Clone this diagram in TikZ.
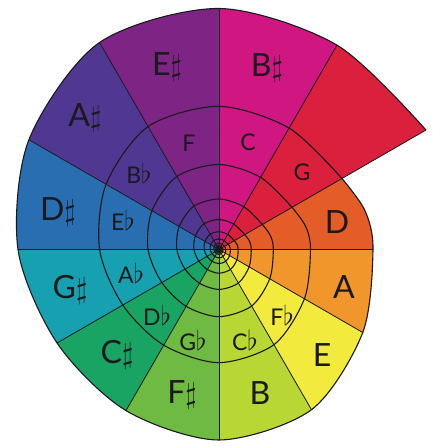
\documentclass[tikz,border=0pt]{standalone}
\usepackage{graphicx}
\usepackage{fontspec}
\setmainfont{Lato}

\definecolor{cD}{RGB}{228,92,40}
\definecolor{cG}{RGB}{218,32,60}
\definecolor{cC}{RGB}{208,22,128}
\definecolor{cF}{RGB}{126,36,132}
\definecolor{cBb}{RGB}{80,56,146}
\definecolor{cEb}{RGB}{42,110,178}
\definecolor{cAb}{RGB}{22,160,176}
\definecolor{cDb}{RGB}{26,164,100}
\definecolor{cGb}{RGB}{110,186,66}
\definecolor{cCb}{RGB}{184,214,52}
\definecolor{cFb}{RGB}{242,234,60}
\definecolor{cA}{RGB}{240,150,42}
\definecolor{cline}{RGB}{25,25,30}

\newcommand{\shp}{\raisebox{0.5pt}{\scalebox{1.2}{$\sharp$}}}
\newcommand{\flt}{\scalebox{1.1}{$\flat$}}

\begin{document}
\begin{tikzpicture}[x=1pt, y=1pt,
  big/.style={font=\fontsize{32}{32}\selectfont, text=cline, inner sep=0pt},
  small/.style={font=\fontsize{23}{23}\selectfont, text=cline, inner sep=0pt},
  turn/.style={draw=cline, line width=1.1pt},
  spoke/.style={draw=cline, line width=0.8pt},
]
\useasboundingbox[fill=white] (-219,-197.5) rectangle (213,249.5);

% --- wedges, cut to the shell outline ---------------------------------
\begin{scope}
  \clip plot[smooth] coordinates {(30:239) (60:236) (90:241) (120:239)
    (150:219.5) (180:201) (210:187) (240:186) (270:190.5) (300:185)
    (330:166) (360:154) (375:151) (390:142)} -- cycle;
  \foreach \a/\c in {0/cD, 30/cG, 60/cC, 90/cF, 120/cBb, 150/cEb,
                     180/cAb, 210/cDb, 240/cGb, 270/cCb, 300/cFb, 330/cA}
    \fill[\c] (0,0) -- (\a:400) -- ({\a+30}:400) -- cycle;
\end{scope}

% --- spokes and the turns of the spiral (each turn 0.594 of the last) --
\foreach \a/\r in {0/154, 30/239, 60/236, 90/241, 120/239, 150/219.5,
                   180/201, 210/187, 240/186, 270/190.5, 300/185, 330/166}
  \draw[spoke] (0,0) -- (\a:\r);
\foreach \k in {0,...,9}
  \draw[turn, scale={0.594^\k}] plot[smooth] coordinates {(30:239)
    (60:236) (90:241) (120:239) (150:219.5) (180:201) (210:187) (240:186)
    (270:190.5) (300:185) (330:166) (360:154) (375:151) (390:142)};
\fill[cline] (0,0) circle (4pt);

% --- outer names ---------------------------------------------------------
\node[big] (Esharp) at (-52,182.5) {E\shp};
\node[big] (Bsharp) at (48,181.5) {B\shp};
\node[big] (Asharp) at (-134,131.5) {A\shp};
\node[big] (Dsharp) at (-161,37.5) {D\shp};
\node[big] (Gsharp) at (-149,-40.5) {G\shp};
\node[big] (Csharp) at (-102,-105.5) {C\shp};
\node[big] (Fsharp) at (-37,-145.5) {F\shp};
\node[big] (B) at (41,-143.5) {B};
\node[big] (E) at (103,-105.5) {E};
\node[big] (A) at (125,-37.5) {A};
\node[big] (D) at (118,27.5) {D};

% --- inner names ---------------------------------------------------------
\node[small] (F) at (-30,106.5) {F};
\node[small] (C) at (29,107.5) {C};
\node[small] (G) at (83,77.5) {G};
\node[small] (Bflat) at (-80,76.5) {B\flt};
\node[small] (Eflat) at (-96,29.5) {E\flt};
\node[small] (Aflat) at (-88,-23.5) {A\flt};
\node[small] (Dflat) at (-62,-65.5) {D\flt};
\node[small] (Gflat) at (-26,-90.5) {G\flt};
\node[small] (Cflat) at (26,-90.5) {C\flt};
\node[small] (Fflat) at (63,-65.5) {F\flt};
\end{tikzpicture}
\end{document}
